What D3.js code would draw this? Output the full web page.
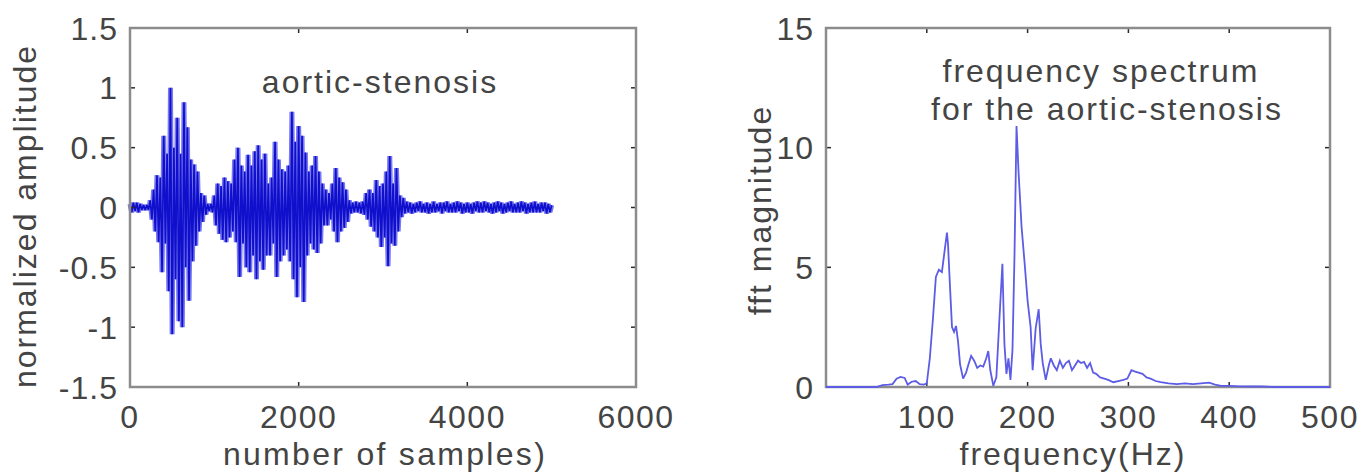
<!DOCTYPE html>
<html>
<head>
<meta charset="utf-8">
<script src="https://cdn.jsdelivr.net/npm/d3@7/dist/d3.min.js"></script>
<style>
  html, body { margin: 0; padding: 0; background: #ffffff; }
  svg { display: block; }
  text { font-family: "Liberation Sans", Arial, sans-serif; fill: #444444; }
</style>
</head>
<body>
<svg id="chart" width="1362" height="475"></svg>
<script>
// ---- Heart sound recording (aortic stenosis), one value every 20 samples ----
const sampleStep = 20;
const amplitude = [
  0.03, -0.04, 0.04, -0.03, 0.04, -0.04, 0.03, -0.02, 0.02, -0.02,
  0.02, -0.02, 0.06, -0.1, 0.15, -0.2, 0.27, -0.29, 0.25, -0.54,
  0.6, -0.3, 0.45, -0.7, 1.0, -1.06, 0.5, -0.6, 0.75, -0.95,
  0.45, -1.0, 0.88, -0.5, 0.67, -0.78, 0.4, -0.45, 0.36, -0.32,
  0.3, -0.2, 0.12, -0.12, 0.1, -0.06, 0.03, -0.03, 0.03, -0.04,
  0.1, -0.15, 0.2, -0.22, 0.18, -0.27, 0.25, -0.29, 0.22, -0.25,
  0.2, -0.2, 0.4, -0.29, 0.5, -0.58, 0.35, -0.3, 0.3, -0.5,
  0.44, -0.54, 0.35, -0.4, 0.47, -0.6, 0.52, -0.45, 0.4, -0.52,
  0.45, -0.4, 0.2, -0.4, 0.25, -0.3, 0.55, -0.58, 0.4, -0.45,
  0.32, -0.4, 0.3, -0.35, 0.35, -0.45, 0.8, -0.6, 0.55, -0.75,
  0.68, -0.5, 0.6, -0.79, 0.46, -0.4, 0.3, -0.3, 0.35, -0.35,
  0.43, -0.38, 0.3, -0.3, 0.2, -0.15, 0.15, -0.15, 0.12, -0.1,
  0.2, -0.2, 0.33, -0.29, 0.25, -0.2, 0.21, -0.17, 0.15, -0.12,
  0.06, -0.05, 0.04, -0.04, 0.05, -0.04, 0.04, -0.05, 0.05, -0.06,
  0.12, -0.1, 0.15, -0.16, 0.12, -0.2, 0.23, -0.25, 0.18, -0.33,
  0.2, -0.25, 0.3, -0.49, 0.43, -0.3, 0.2, -0.32, 0.33, -0.2,
  0.1, -0.08, 0.08, -0.05, 0.05, -0.04, 0.04, -0.05, 0.03, -0.04,
  0.04, -0.03, 0.05, -0.04, 0.03, -0.04, 0.04, -0.05, 0.03, -0.04,
  0.05, -0.04, 0.03, -0.03, 0.04, -0.05, 0.04, -0.03, 0.05, -0.04,
  0.03, -0.04, 0.04, -0.04, 0.05, -0.03, 0.04, -0.05, 0.03, -0.04,
  0.04, -0.04, 0.03, -0.05, 0.04, -0.03, 0.05, -0.04, 0.04, -0.04,
  0.05, -0.03, 0.04, -0.04, 0.03, -0.05, 0.04, -0.04, 0.05, -0.03,
  0.04, -0.05, 0.03, -0.04, 0.04, -0.03, 0.05, -0.04, 0.03, -0.04,
  0.04, -0.04, 0.05, -0.03, 0.04, -0.05, 0.03, -0.04, 0.04, -0.04,
  0.05, -0.04, 0.03, -0.04, 0.04, -0.03, 0.04, -0.05, 0.03, -0.04,
  0.02
];
const sampleIndex = amplitude.map((_, i) => i * sampleStep);

// ---- FFT magnitude spectrum ----
const freqHz = [
  0, 50, 56, 62, 66, 70, 74, 78, 81, 85,
  89, 93, 97, 100, 103, 106, 109, 112, 115, 118,
  120, 121, 123, 125, 127, 129, 131, 133, 136, 139,
  141, 144, 147, 150, 153, 156, 159, 161, 163, 166,
  169, 172, 175, 177, 179, 181, 183, 185, 187, 189,
  191, 194, 197, 200, 203, 205, 208, 211, 213, 215,
  218, 221, 223, 226, 229, 232, 235, 238, 241, 244,
  247, 250, 253, 256, 259, 262, 265, 268, 272, 276,
  280, 285, 290, 295, 299, 303, 306, 310, 314, 318,
  322, 327, 332, 340, 348, 356, 364, 372, 380, 386,
  392, 400, 410, 420, 432, 445, 500
];
const fftMagnitude = [
  0, 0, 0.08, 0.1, 0.12, 0.35, 0.42, 0.38, 0.1, 0.22,
  0.25, 0.12, 0.1, 0.15, 1.2, 2.8, 4.6, 4.9, 4.8, 5.8,
  6.45, 6.0, 4.2, 2.5, 2.3, 2.55, 1.9, 0.95, 0.35, 0.6,
  0.9, 1.3, 1.1, 0.8, 0.9, 0.85, 1.2, 1.5, 0.7, 0.05,
  0.4, 2.8, 5.15, 1.8, 0.55, 1.2, 0.3, 1.55, 5.5, 10.9,
  9.0, 6.7, 5.2, 3.6, 2.5, 0.7, 2.45, 3.25, 1.8, 1.0,
  0.3, 0.9, 1.2, 0.9, 0.7, 1.1, 0.8, 1.0, 1.1, 0.7,
  0.9, 1.1, 1.0, 1.05, 0.8, 1.0, 0.6, 0.55, 0.4, 0.35,
  0.3, 0.2, 0.25, 0.3, 0.35, 0.7, 0.65, 0.6, 0.55, 0.4,
  0.35, 0.25, 0.2, 0.15, 0.12, 0.15, 0.12, 0.15, 0.18, 0.1,
  0.05, 0.05, 0.03, 0.02, 0.02, 0, 0
];

// ---- Tick values ----
const signalXTicks = [0, 2000, 4000, 6000];
const signalYTicks = [-1.5, -1, -0.5, 0, 0.5, 1, 1.5];
const spectrumXTicks = [100, 200, 300, 400, 500];
const spectrumYTicks = [0, 5, 10, 15];

const svg = d3.select("#chart");

function framedAxes(g, x, y, xTicks, yTicks, xFmt, yFmt) {
  const [x0, x1] = x.range();
  const [y0, y1] = y.range();
  const tickLen = 5;

  // tick marks on all four sides, pointing inward
  const ticks = g.append("g").attr("stroke", "#2a2a2a").attr("stroke-width", 1.5);
  xTicks.forEach(t => {
    ticks.append("line").attr("x1", x(t)).attr("x2", x(t)).attr("y1", y0).attr("y2", y0 - tickLen);
    ticks.append("line").attr("x1", x(t)).attr("x2", x(t)).attr("y1", y1).attr("y2", y1 + tickLen);
  });
  yTicks.forEach(t => {
    ticks.append("line").attr("x1", x0).attr("x2", x0 + tickLen).attr("y1", y(t)).attr("y2", y(t));
    ticks.append("line").attr("x1", x1).attr("x2", x1 - tickLen).attr("y1", y(t)).attr("y2", y(t));
  });

  // frame
  g.append("rect")
    .attr("x", x0).attr("y", y1)
    .attr("width", x1 - x0).attr("height", y0 - y1)
    .attr("fill", "none").attr("stroke", "#8c8c8c").attr("stroke-width", 2.5);

  // tick labels
  g.append("g").selectAll("text").data(xTicks).join("text")
    .attr("x", d => x(d)).attr("y", 428)
    .attr("text-anchor", "middle")
    .attr("font-size", 32).attr("letter-spacing", 1.5)
    .text(xFmt);
  g.append("g").selectAll("text").data(yTicks).join("text")
    .attr("x", x0 - 12).attr("y", d => y(d) + 11.5)
    .attr("text-anchor", "end")
    .attr("font-size", 32).attr("letter-spacing", 1)
    .text(yFmt);
}

// ---------------- Left: time-domain signal ----------------
const xs = d3.scaleLinear().domain([0, 6000]).range([130, 636]);
const ys = d3.scaleLinear().domain([-1.5, 1.5]).range([387, 28]);
const left = svg.append("g");

const signalLine = d3.line()
  .x((d, i) => xs(sampleIndex[i]))
  .y(d => ys(d));

left.append("path").datum(amplitude)
  .attr("d", signalLine)
  .attr("fill", "none").attr("stroke", "#7878f0").attr("stroke-width", 5)
  .attr("stroke-linejoin", "bevel");
left.append("path").datum(amplitude)
  .attr("d", signalLine)
  .attr("fill", "none").attr("stroke", "#1010cc").attr("stroke-width", 1.7)
  .attr("stroke-linejoin", "bevel");

framedAxes(left, xs, ys, signalXTicks, signalYTicks, d => String(d), d => String(d));

left.append("text").attr("x", 380).attr("y", 93)
  .attr("text-anchor", "middle").attr("font-size", 32).attr("letter-spacing", 2)
  .text("aortic-stenosis");
left.append("text").attr("x", 385).attr("y", 465)
  .attr("text-anchor", "middle").attr("font-size", 32).attr("letter-spacing", 2.3)
  .text("number of samples)");
left.append("text")
  .attr("transform", "translate(36,216) rotate(-90)")
  .attr("text-anchor", "middle").attr("font-size", 32).attr("letter-spacing", 2)
  .text("normalized amplitude");

// ---------------- Right: frequency spectrum ----------------
const xf = d3.scaleLinear().domain([0, 500]).range([826, 1330]);
const yf = d3.scaleLinear().domain([0, 15]).range([387, 28]);
const right = svg.append("g");

framedAxes(right, xf, yf, spectrumXTicks, spectrumYTicks, d => String(d), d => String(d));

const spectrumLine = d3.line()
  .x((d, i) => xf(freqHz[i]))
  .y(d => yf(d));

right.append("path").datum(fftMagnitude)
  .attr("d", spectrumLine)
  .attr("fill", "none").attr("stroke", "#5c5ce6").attr("stroke-width", 1.8)
  .attr("stroke-linejoin", "miter").attr("stroke-miterlimit", 3);

right.append("text").attr("x", 1101).attr("y", 82)
  .attr("text-anchor", "middle").attr("font-size", 32).attr("letter-spacing", 2)
  .text("frequency spectrum");
right.append("text").attr("x", 1107).attr("y", 120)
  .attr("text-anchor", "middle").attr("font-size", 32).attr("letter-spacing", 2)
  .text("for the aortic-stenosis");
right.append("text").attr("x", 1073).attr("y", 465)
  .attr("text-anchor", "middle").attr("font-size", 32).attr("letter-spacing", 2)
  .text("frequency(Hz)");
right.append("text")
  .attr("transform", "translate(771,210) rotate(-90)")
  .attr("text-anchor", "middle").attr("font-size", 32).attr("letter-spacing", 2)
  .text("fft magnitude");
</script>
</body>
</html>
